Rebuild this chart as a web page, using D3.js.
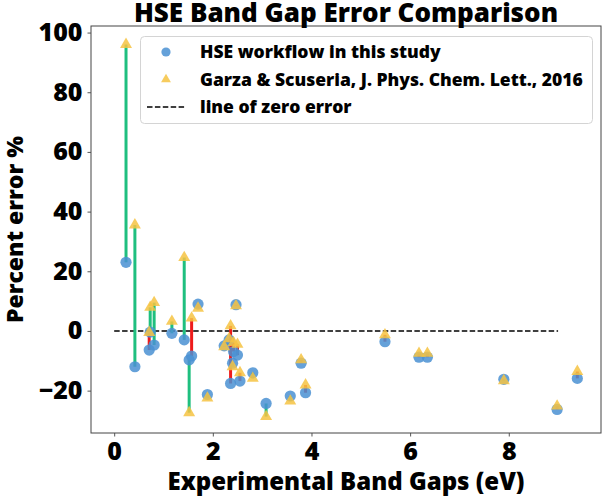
<!DOCTYPE html>
<html>
<head>
<meta charset="utf-8">
<script src="https://cdn.jsdelivr.net/npm/d3@7/dist/d3.min.js"></script>
<style>
  html, body { margin: 0; padding: 0; background: #fff; }
  svg { display: block; }
  text { font-family: "Open Sans", Lato, sans-serif; font-weight: 800; fill: #000; }
</style>
</head>
<body>
<svg id="chart" width="603" height="499"></svg>
<script>
// ---- data ----
const bandGaps   = [0.24, 0.42, 0.71, 0.73, 0.81, 1.17, 1.42, 1.52, 1.57, 1.70, 1.89,
                    2.23, 2.33, 2.36, 2.40, 2.42, 2.47, 2.50, 2.55, 2.81, 3.08, 3.57,
                    3.79, 3.88, 5.49, 6.18, 6.35, 7.90, 8.98, 9.39];
const hseError   = [23.0, -12.0, -6.4, -0.4, -4.7, -0.8, -3.0, -9.7, -8.4, 9.0, -21.3,
                    -5.0, -3.0, -17.6, -10.8, -6.9, 8.8, -8.1, -16.8, -14.0, -24.3, -21.8,
                    -10.8, -20.7, -3.6, -8.8, -8.8, -16.2, -26.3, -15.9];
const garzaError = [96.0, 35.5, -0.5, 7.9, 9.5, 3.2, 24.6, -27.4, 4.3, 7.6, -22.5,
                    -5.3, -2.6, 1.7, -12.0, -3.9, 8.4, -4.5, -14.0, -15.9, -28.7, -23.5,
                    -9.7, -18.1, -1.3, -7.5, -7.5, -16.7, -25.2, -13.6];
const zeroLineX  = [0, 9];
const xTicks = [0, 2, 4, 6, 8];
const yTicks = [-20, 0, 20, 40, 60, 80, 100];
const legendLabels = ["HSE workflow in this study",
                      "Garza & Scuseria, J. Phys. Chem. Lett., 2016",
                      "line of zero error"];
const titleText = "HSE Band Gap Error Comparison";
const xLabel = "Experimental Band Gaps (eV)";
const yLabel = "Percent error %";

// ---- layout ----
const svg = d3.select("#chart");
const L = 91, R = 601, T = 26, B = 433;
const x = d3.scaleLinear().domain([-0.47, 9.87]).range([L, R]);
const y = d3.scaleLinear().domain([-34.2, 102.2]).range([B, T]);

const C_HSE = "#4a90d2", C_GZ = "#f6c342", C_GOOD = "#1fbf7f", C_BAD = "#ee1b1b";

const pts = bandGaps.map((g, i) => ({ g, h: hseError[i], z: garzaError[i] }));

// axes
const axisColor = "#444";
const gx = svg.append("g").attr("transform", `translate(0,${B})`)
  .call(d3.axisBottom(x).tickValues(xTicks).tickSize(3.5).tickSizeOuter(0).tickPadding(6).tickFormat(d3.format("d")));
const gy = svg.append("g").attr("transform", `translate(${L},0)`)
  .call(d3.axisLeft(y).tickValues(yTicks).tickSize(3.5).tickSizeOuter(0).tickPadding(5)
        .tickFormat(d => d < 0 ? "\u2212" + Math.abs(d) : d));
[gx, gy].forEach(g => {
  g.select(".domain").remove();
  g.selectAll(".tick line").attr("stroke", axisColor).attr("stroke-width", 0.9);
  g.selectAll(".tick text").style("font-size", "25px").attr("fill", "#000");
});

// zero line
svg.append("line")
  .attr("x1", x(zeroLineX[0])).attr("x2", x(zeroLineX[1]))
  .attr("y1", y(0)).attr("y2", y(0))
  .attr("stroke", "#000").attr("stroke-width", 1.5).attr("stroke-dasharray", "5.5,2.4");

// connecting lines
svg.append("g").selectAll("line").data(pts).join("line")
  .attr("x1", d => x(d.g)).attr("x2", d => x(d.g))
  .attr("y1", d => y(d.h)).attr("y2", d => y(d.z))
  .attr("stroke", d => Math.abs(d.h) < Math.abs(d.z) ? C_GOOD : C_BAD)
  .attr("stroke-width", 3);

// HSE circles
svg.append("g").selectAll("circle").data(pts).join("circle")
  .attr("cx", d => x(d.g)).attr("cy", d => y(d.h)).attr("r", 5.6)
  .attr("fill", C_HSE).attr("fill-opacity", 0.85);

// Garza triangles
const tri = d3.symbol().type(d3.symbolTriangle).size(62);
svg.append("g").selectAll("path").data(pts).join("path")
  .attr("d", tri)
  .attr("transform", d => `translate(${x(d.g)},${y(d.z)})`)
  .attr("fill", C_GZ).attr("fill-opacity", 0.85);

// frame
svg.append("rect").attr("x", L).attr("y", T).attr("width", R - L).attr("height", B - T)
  .attr("fill", "none").attr("stroke", axisColor).attr("stroke-width", 1);

// legend
const lg = svg.append("g");
lg.append("rect").attr("x", 140.5).attr("y", 36.5).attr("width", 452).attr("height", 87)
  .attr("rx", 4).attr("fill", "#fff").attr("fill-opacity", 0.8)
  .attr("stroke", "#d4d4d4").attr("stroke-width", 1);
const rowY = [52, 79.5, 107];
lg.append("circle").attr("cx", 166).attr("cy", rowY[0]).attr("r", 4.6)
  .attr("fill", C_HSE).attr("fill-opacity", 0.85);
lg.append("path").attr("d", d3.symbol().type(d3.symbolTriangle).size(42))
  .attr("transform", `translate(166,${rowY[1]})`).attr("fill", C_GZ).attr("fill-opacity", 0.85);
lg.append("line").attr("x1", 147).attr("x2", 185).attr("y1", rowY[2]).attr("y2", rowY[2])
  .attr("stroke", "#000").attr("stroke-width", 1.5).attr("stroke-dasharray", "5.5,2.4");
lg.selectAll("text.lab").data(legendLabels).join("text").attr("class", "lab")
  .attr("x", 200).attr("y", (d, i) => rowY[i]).attr("dy", "0.35em")
  .style("font-size", "17.5px").text(d => d);

// title and labels
svg.append("text").attr("x", (L + R) / 2).attr("y", 22).attr("text-anchor", "middle")
  .style("font-size", "26px").text(titleText);
svg.append("text").attr("x", (L + R) / 2).attr("y", 490).attr("text-anchor", "middle")
  .style("font-size", "24px").text(xLabel);
svg.append("text").attr("transform", `translate(23,${(T + B) / 2}) rotate(-90)`)
  .attr("text-anchor", "middle").style("font-size", "23px").text(yLabel);
</script>
</body>
</html>
